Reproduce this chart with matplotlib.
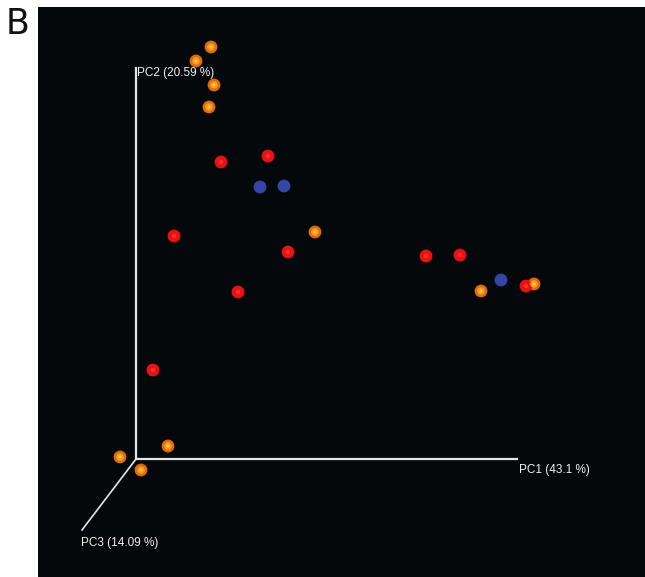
import matplotlib.pyplot as plt

# projected PCoA coordinates (screen units, origin at axis corner)
orange_x = [75, 60, 78, 73, 179, 345, 398, 32, -16, 5]
orange_y = [412, 398, 374, 352, 227, 168, 175, 13, 2, -11]

red_x = [85, 132, 38, 152, 102, 290, 324, 390, 17]
red_y = [297, 303, 223, 207, 167, 203, 204, 173, 89]

blue_x = [124, 148, 365]
blue_y = [272, 273, 179]

pc_labels = ["PC1 (43.1 %)", "PC2 (20.59 %)", "PC3 (14.09 %)"]

plt.rcParams['font.family'] = ['Liberation Sans', 'DejaVu Sans']

fig = plt.figure(figsize=(6.45, 5.77), dpi=100)
fig.patch.set_facecolor("white")

ax = fig.add_axes([38 / 645, 0, 607 / 645, 570 / 577])
ax.set_facecolor("#05080a")
ax.set_xlim(-98, 509)
ax.set_ylim(-118, 452)
ax.set_xticks([])
ax.set_yticks([])
for s in ax.spines.values():
    s.set_visible(False)

# axes of the 3D view
axis_col = "#e6e6e6"
ax.plot([0, 382], [0, 0], color=axis_col, lw=1.6, solid_capstyle="butt")
ax.plot([0, 0], [0, 392], color=axis_col, lw=1.6, solid_capstyle="butt")
ax.plot([0, -54], [0, -71], color=axis_col, lw=1.2)

ax.text(383, -11, pc_labels[0], color="#f0f0f0", fontsize=8.5, ha="left", va="center")
ax.text(1, 386, pc_labels[1], color="#f0f0f0", fontsize=8.5, ha="left", va="center")
ax.text(-55, -84, pc_labels[2], color="#f0f0f0", fontsize=8.5, ha="left", va="center")

# spheres: outer colour + bright core
ax.scatter(orange_x, orange_y, s=85, color="#e06a0c", edgecolors="none", zorder=3)
ax.scatter(orange_x, orange_y, s=30, color="#f59a22", edgecolors="none", zorder=4)
ax.scatter(orange_x, orange_y, s=5, color="#ffd060", edgecolors="none", zorder=5)
ax.scatter(red_x, red_y, s=85, color="#e81212", edgecolors="none", zorder=3)
ax.scatter(red_x, red_y, s=10, color="#ff3030", edgecolors="none", zorder=4)
ax.scatter(blue_x, blue_y, s=85, color="#3446a8", edgecolors="none", zorder=3)

fig.text(6 / 645, 1 - 24 / 577, "B", fontsize=25, family="DejaVu Sans",
         color="#111111", ha="left", va="center")

fig.savefig("out.png", dpi=100, facecolor="white")
